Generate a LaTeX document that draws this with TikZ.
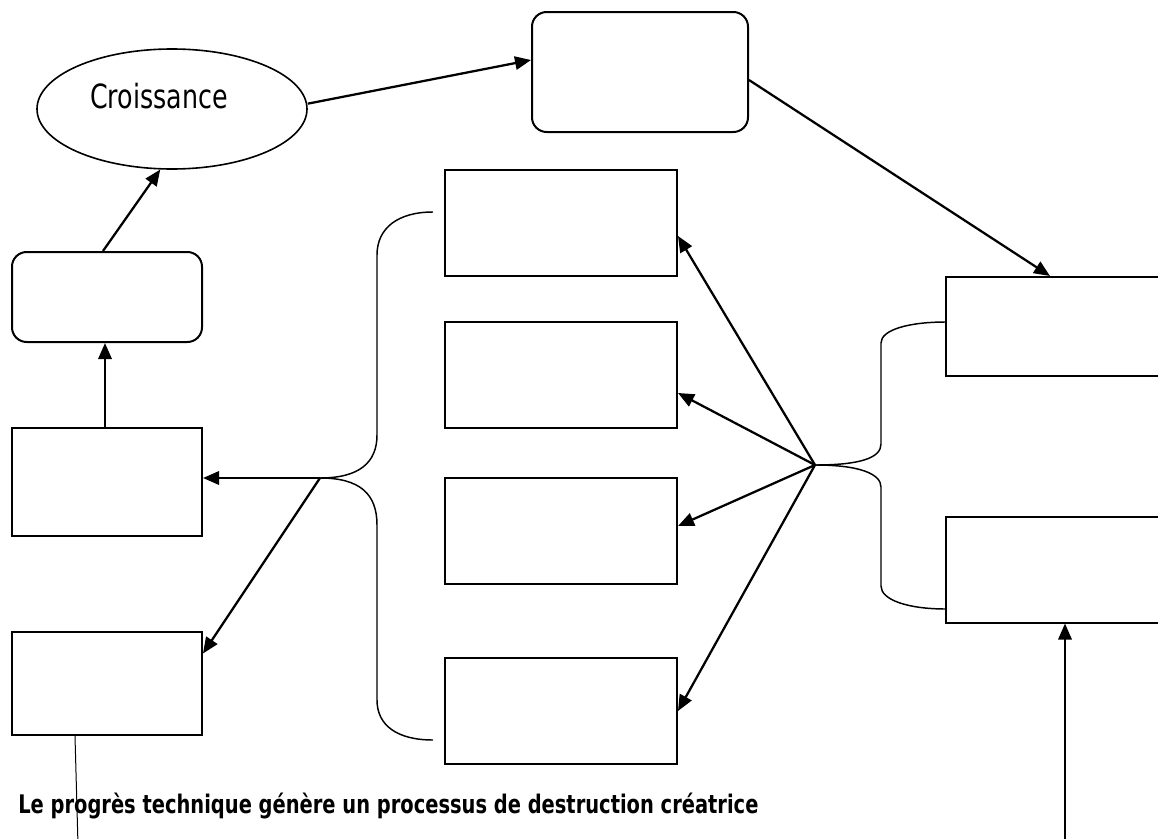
\documentclass[tikz,border=0pt]{standalone}
\usepackage{fontspec}
\newfontfamily\tahoma[FakeStretch=0.76]{DejaVu Sans}
\usetikzlibrary{arrows.meta,shapes.geometric,calc}
\tikzset{box/.style={draw=black, line width=1.5pt, inner sep=0pt},
  rbox/.style={box, rounded corners=11pt},
  arr/.style={line width=1.7pt, -{Triangle[length=12pt,width=10pt]}},
  brace/.style={line width=1.1pt}}

\begin{document}
\begin{tikzpicture}[x=0.75pt, y=-0.75pt, font=\tahoma]
\clip (0,0) rectangle (1158,839);
\node (crois) at (172,109) [ellipse, draw, line width=1.2pt, minimum width=202.5pt, minimum height=90pt] {};
\node (croistxt) at (159,96) {\fontsize{25}{29}\selectfont Croissance};
\node (top) at (640,72) [rbox, minimum width=162pt, minimum height=90pt] {};
\node (lr) at (107,297) [rbox, minimum width=142.5pt, minimum height=67.5pt] {};
\node (l2) at (107,482) [box, minimum width=142.5pt, minimum height=81pt] {};
\node (l3) at (107,683.5) [box, minimum width=142.5pt, minimum height=77.25pt] {};
\node (c1) at (561,223) [box, minimum width=174pt, minimum height=79.5pt] {};
\node (c2) at (561,375) [box, minimum width=174pt, minimum height=79.5pt] {};
\node (c3) at (561,531) [box, minimum width=174pt, minimum height=79.5pt] {};
\node (c4) at (561,711) [box, minimum width=174pt, minimum height=79.5pt] {};
\node (rA) at (1058,326.5) [box, minimum width=168pt, minimum height=74.25pt] {};
\node (rB) at (1058,569.5) [box, minimum width=168pt, minimum height=79.5pt] {};
\node (title) at (18,806) [anchor=west, inner sep=0pt] {\fontsize{19.2}{23}\selectfont\bfseries Le progrès technique génère un processus de destruction créatrice};
\coordinate (lhub) at (320,478);
\coordinate (rhub) at (815,465);
\coordinate (lb1) at (433,212);
\coordinate (lb2) at (433,740);
\coordinate (rb1) at (946,322);
\coordinate (rb2) at (946,609);
\coordinate (lend) at (78,845);
\coordinate (rbot) at (1065,845);
\draw[brace] (lhub) .. controls (360,478) and (377,462) .. (377,435) -- (377,255) .. controls (377,228) and (398,212) .. (lb1);
\draw[brace] (lhub) .. controls (360,478) and (377,494) .. (377,525) -- (377,700) .. controls (377,726) and (398,740) .. (lb2);
\draw[brace] (rhub) .. controls (860,465) and (881,458) .. (881,444) -- (881,343) .. controls (881,330) and (908,322) .. (rb1);
\draw[brace] (rhub) .. controls (860,465) and (881,474) .. (881,487) -- (881,586) .. controls (881,600) and (908,609) .. (rb2);
\draw[arr] ([yshift=4pt]crois.east) -- ([yshift=9pt]top.west);
\draw[arr] ([yshift=-6pt]top.east) -- ([xshift=-6pt]rA.north);
\draw[arr] ([xshift=-3pt]lr.north) -- (crois.-101);
\draw[arr] ([xshift=-1.5pt]l2.north) -- ([xshift=-1.5pt]lr.south);
\draw[arr] (lhub) -- (lhub -| l2.east);
\draw[arr] (lhub) -- ([yshift=22.5pt]l3.east);
\draw[arr] (rhub) -- ([yshift=-9.75pt]c1.east);
\draw[arr] (rhub) -- ([yshift=-13.5pt]c2.east);
\draw[arr] (rhub) -- ([yshift=3.75pt]c3.east);
\draw[arr] (rhub) -- ([yshift=0pt]c4.east);
\draw[line width=0.75pt] ([xshift=-24pt]l3.south) -- (lend);
\draw[arr] (rbot) -- (rbot |- rB.south);
\end{tikzpicture}
\end{document}
